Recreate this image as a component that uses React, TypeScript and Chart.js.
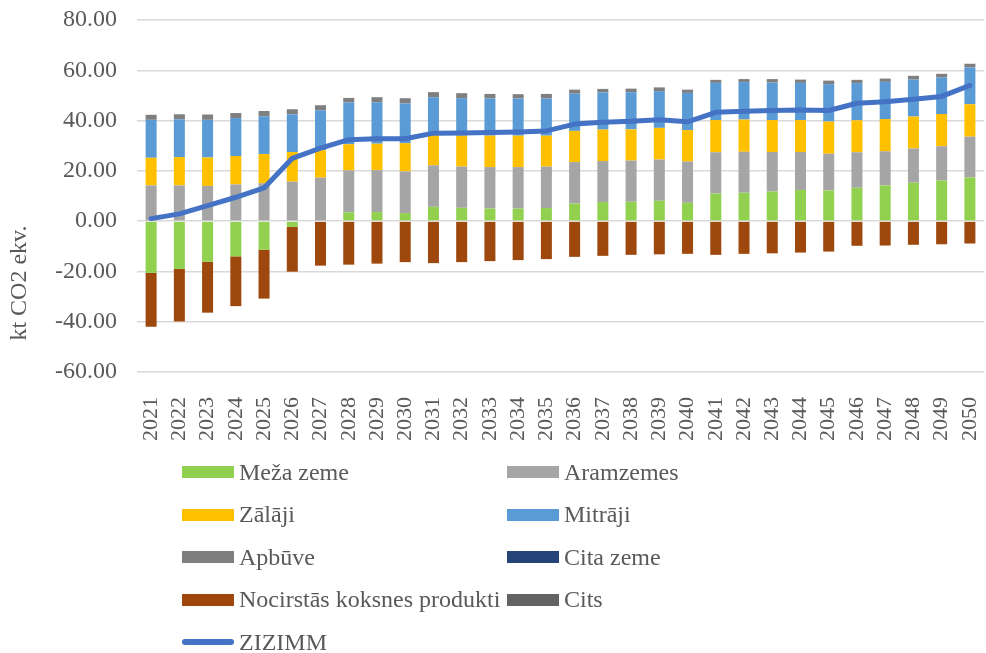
import React, { useEffect, useRef } from "react";
import { Chart, registerables } from "chart.js";

Chart.register(...registerables);

const years = ["2021","2022","2023","2024","2025","2026","2027","2028","2029","2030","2031","2032","2033","2034","2035","2036","2037","2038","2039","2040","2041","2042","2043","2044","2045","2046","2047","2048","2049","2050"];

const mezaZeme = [-20.6,-19.0,-16.2,-14.0,-11.4,-2.3,0.3,3.5,3.6,3.2,5.7,5.3,5.0,5.0,5.2,7.0,7.6,7.7,8.1,7.3,11.0,11.3,11.8,12.4,12.2,13.3,14.2,15.3,16.2,17.4];
const aramzemes = [14.2,14.2,14.0,14.6,15.1,15.7,17.0,16.7,16.7,16.6,16.5,16.4,16.5,16.5,16.5,16.5,16.3,16.4,16.4,16.4,16.4,16.3,15.7,15.1,14.6,14.1,13.6,13.6,13.6,16.2];
const zalaji = [11.0,11.3,11.3,11.3,11.6,11.8,10.9,10.4,10.5,11.2,12.0,12.3,12.5,12.5,12.3,12.4,12.5,12.4,12.6,12.5,12.8,12.8,12.7,12.7,12.8,12.7,12.8,12.7,12.8,12.9];
const mitraji = [15.1,15.0,15.0,15.1,15.0,15.0,15.9,16.6,16.5,15.8,15.1,14.9,14.8,14.8,14.8,14.8,14.8,14.8,14.6,14.8,14.8,14.9,14.9,14.8,14.9,14.8,14.8,14.7,14.5,14.6];
const apbuve = [2.0,2.0,2.1,2.0,2.1,2.0,2.0,1.8,2.0,2.1,2.0,2.0,1.8,1.7,1.8,1.6,1.4,1.4,1.5,1.3,1.2,1.2,1.4,1.3,1.4,1.3,1.3,1.5,1.5,1.5];
const citaZeme = [0,0,0,0,0,0,0,0,0,0,0,0,0,0,0,0,0,0,0,0,0,0,0,0,0,0,0,0,0,0];
const koksnesProdukti = [-21.4,-20.9,-20.2,-19.8,-19.4,-17.8,-17.7,-17.3,-16.9,-16.3,-16.7,-16.3,-15.9,-15.5,-15.1,-14.2,-13.8,-13.4,-13.2,-13.0,-13.4,-13.0,-12.8,-12.5,-12.1,-9.8,-9.7,-9.4,-9.2,-8.9];
const cits = [0,0,0,0,0,0,0,0,0,0,0,0,0,0,0,0,0,0,0,0,0,0,0,0,0,0,0,0,0,0];
const zizimm = [1.0,2.9,6.2,9.5,13.2,25.0,29.0,32.4,32.8,32.8,35.0,35.1,35.3,35.5,35.9,38.6,39.3,39.7,40.3,39.5,43.3,43.7,44.0,44.2,44.0,46.9,47.5,48.5,49.6,54.0];

const yTicks = [-60, -40, -20, 0, 20, 40, 60, 80];

const barSeries = [
  { label: "Meža zeme", data: mezaZeme, color: "#92D050" },
  { label: "Aramzemes", data: aramzemes, color: "#A5A5A5" },
  { label: "Zālāji", data: zalaji, color: "#FFC000" },
  { label: "Mitrāji", data: mitraji, color: "#5B9BD5" },
  { label: "Apbūve", data: apbuve, color: "#7F7F7F" },
  { label: "Cita zeme", data: citaZeme, color: "#264478" },
  { label: "Nocirstās koksnes produkti", data: koksnesProdukti, color: "#9E480E" },
  { label: "Cits", data: cits, color: "#636363" },
];
const lineSeries = { label: "ZIZIMM", data: zizimm, color: "#4472C4" };

const FONT = '"Liberation Serif", "Times New Roman", serif';
const TEXT = "#595959";

const yTitlePlugin = {
  id: "yTitle",
  afterDraw(chart: any) {
    const ctx = chart.ctx;
    ctx.save();
    ctx.translate(20, 283);
    ctx.rotate(-Math.PI / 2);
    ctx.textAlign = "center";
    ctx.textBaseline = "middle";
    ctx.font = `24px ${FONT}`;
    ctx.fillStyle = TEXT;
    ctx.fillText("kt CO2 ekv.", 0, 0);
    ctx.restore();
  },
};

export default function App() {
  const ref = useRef<HTMLCanvasElement | null>(null);

  useEffect(() => {
    if (!ref.current) return;
    const chart = new Chart(ref.current, {
      type: "bar",
      data: {
        labels: years,
        datasets: [
          ...barSeries.map((s) => ({
            type: "bar" as const,
            label: s.label,
            data: s.data,
            backgroundColor: s.color,
            borderWidth: 0,
            barPercentage: 0.39,
            categoryPercentage: 1,
            stack: "bars",
            order: 1,
          })),
          {
            type: "line" as const,
            label: lineSeries.label,
            data: lineSeries.data,
            borderColor: lineSeries.color,
            backgroundColor: lineSeries.color,
            borderWidth: 5,
            pointRadius: 0,
            tension: 0,
            stack: "net",
            order: 0,
            borderCapStyle: "round",
            borderJoinStyle: "round",
          } as any,
        ],
      },
      options: {
        responsive: false,
        animation: false,
        devicePixelRatio: 1,
        layout: { padding: { top: 20, right: 2, bottom: 201, left: 0 } },
        plugins: {
          legend: { display: false },
          tooltip: { enabled: false },
        },
        scales: {
          x: {
            stacked: true,
            grid: { display: false },
            border: { display: false },
            ticks: {
              minRotation: 90,
              maxRotation: 90,
              autoSkip: false,
              padding: 17,
              color: TEXT,
              font: { family: FONT, size: 22 },
            },
            afterFit: (s: any) => {
              s.height = 80;
              s.paddingLeft = 0;
              s.paddingRight = 0;
            },
          },
          y: {
            stacked: true,
            min: -60,
            max: 80,
            afterBuildTicks: (s: any) => {
              s.ticks = yTicks.map((v) => ({ value: v }));
            },
            ticks: {
              padding: 20,
              color: TEXT,
              font: { family: FONT, size: 24 },
              callback: (v: any) => Number(v).toFixed(2),
            },
            grid: { color: "#D9D9D9", lineWidth: 1.5, drawTicks: false },
            border: { display: false },
            afterFit: (s: any) => {
              s.width = 137;
              s.paddingTop = 0;
              s.paddingBottom = 0;
            },
          },
        },
      },
      plugins: [yTitlePlugin],
    });
    return () => chart.destroy();
  }, []);

  const legendItems = [
    ...barSeries.map((s) => ({ label: s.label, color: s.color, line: false })),
    { label: lineSeries.label, color: lineSeries.color, line: true },
  ];
  const colX = [182, 507];
  const rowY = [472, 514.5, 557, 599.5, 642];

  return (
    <div style={{ position: "fixed", left: 0, top: 0, width: 986, height: 653, background: "#fff" }}>
      <canvas ref={ref} width={986} height={653} style={{ position: "absolute", left: 0, top: 0 }} />
      {legendItems.map((it, i) => {
        const col = i % 2;
        const row = Math.floor(i / 2);
        return (
          <div
            key={it.label}
            style={{
              position: "absolute",
              left: colX[col],
              top: rowY[row] - 15,
              height: 30,
              display: "flex",
              alignItems: "center",
              fontFamily: FONT,
              fontSize: 24,
              color: TEXT,
              whiteSpace: "nowrap",
            }}
          >
            <span
              style={{
                display: "inline-block",
                width: 52,
                height: it.line ? 6 : 12,
                borderRadius: it.line ? 3 : 0,
                background: it.color,
                marginRight: 5,
              }}
            />
            <span>{it.label}</span>
          </div>
        );
      })}
    </div>
  );
}
